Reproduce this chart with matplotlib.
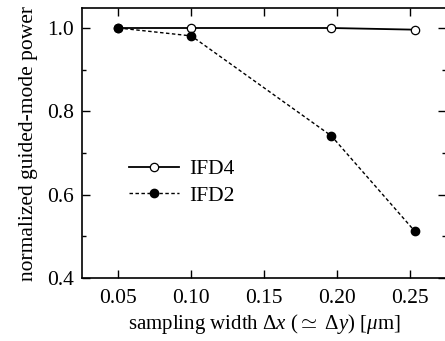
import matplotlib
matplotlib.use("Agg")
import matplotlib.pyplot as plt
from matplotlib.ticker import MultipleLocator

plt.rcParams['font.family'] = ['Liberation Serif', 'DejaVu Serif']
plt.rcParams['mathtext.fontset'] = 'custom'
plt.rcParams['mathtext.rm'] = 'Liberation Serif'
plt.rcParams['mathtext.it'] = 'Liberation Serif:italic'

x_ifd4 = [0.05, 0.10, 0.196, 0.253]
y_ifd4 = [1.0, 1.0, 1.0, 0.996]
x_ifd2 = [0.05, 0.10, 0.196, 0.253]
y_ifd2 = [1.0, 0.981, 0.741, 0.513]
xticks = [0.05, 0.10, 0.15, 0.20, 0.25]
yticks = [0.4, 0.6, 0.8, 1.0]

fig = plt.figure(figsize=(4.45, 3.41), dpi=100)
ax = fig.add_axes([82/445, 1-278/341, 1-82/445+0.002, (278-8)/341])

ax.plot(x_ifd4, y_ifd4, '-', color='black', lw=1.3, marker='o', ms=6,
        mfc='white', mec='black', mew=0.9, label='IFD4')
ax.plot(x_ifd2, y_ifd2, '--', color='black', lw=1.0, dashes=(2.5, 1.8), marker='o', ms=6,
        mfc='black', mec='black', label='IFD2')

ax.set_xlim(0.025, 0.2745)
ax.set_ylim(0.4, 1.048)
ax.set_xticks(xticks)
ax.set_xticklabels(['%.2f' % t for t in xticks])
ax.set_yticks(yticks)
ax.set_yticklabels(['%.1f' % t for t in yticks])
ax.yaxis.set_minor_locator(MultipleLocator(0.1))
ax.tick_params(which='both', direction='in', top=True, right=True, labelsize=15.5, width=1.0)
ax.tick_params(which='major', length=6)
ax.tick_params(which='minor', length=3)
ax.tick_params(axis='x', pad=8)
ax.tick_params(axis='y', pad=6)
for s in ax.spines.values():
    s.set_linewidth(1.2)

ax.set_xlabel(r'sampling width $\Delta x$ ($\simeq$ $\Delta y$) [$\mu$m]', fontsize=15, labelpad=3)
ax.set_ylabel('normalized guided-mode power', fontsize=15.5, labelpad=6)

ax.legend(loc='upper left', bbox_to_anchor=(0.076, 0.512), frameon=False, fontsize=15.5,
          handlelength=2.3, handletextpad=0.5, labelspacing=0.3)

fig.savefig('out.png', dpi=100)
